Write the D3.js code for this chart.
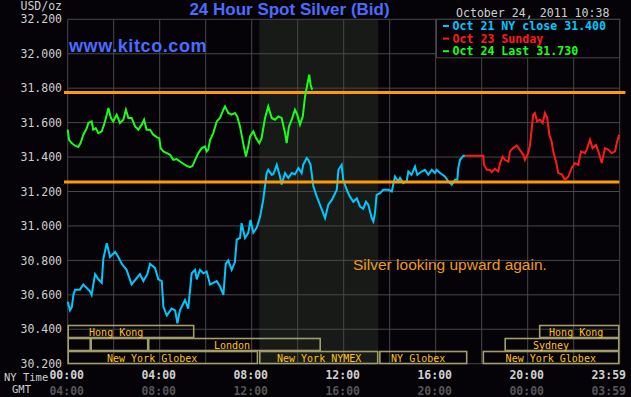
<!DOCTYPE html>
<html>
<head>
<meta charset="utf-8">
<script src="https://cdn.jsdelivr.net/npm/d3@7"></script>
<style>
  html, body { margin: 0; padding: 0; background: #050307; }
  svg { display: block; }
</style>
</head>
<body>
<svg id="chart" width="631" height="397"></svg>
<script>
// ---------- DATA ----------
const yTicks = [30.2, 30.4, 30.6, 30.8, 31.0, 31.2, 31.4, 31.6, 31.8, 32.0, 32.2];
const xTickHours = [0, 4, 8, 12, 16, 20, 23.983];
const nyTimeLabels = ["00:00", "04:00", "08:00", "12:00", "16:00", "20:00", "23:59"];
const gmtLabels = ["04:00", "08:00", "12:00", "16:00", "20:00", "00:00", "03:59"];

// Oct 21 NY close (cyan): [hour, price]
const oct21Hours = [0.00,0.10,0.18,0.25,0.32,0.53,0.68,0.97,1.04,1.19,1.33,1.48,1.55,1.70,1.84,2.06,2.20,2.35,2.56,2.78,3.14,3.29,3.46,3.58,3.80,3.94,4.09,4.16,4.31,4.52,4.67,4.77,4.88,5.10,5.24,5.39,5.54,5.61,5.75,5.90,6.04,6.19,6.33,6.48,6.62,6.77,6.87,6.98,7.13,7.27,7.35,7.49,7.56,7.71,7.85,7.95,8.07,8.22,8.36,8.50,8.65,8.72,8.87,8.94,9.09,9.23,9.30,9.45,9.59,9.74,9.88,10.03,10.17,10.24,10.39,10.46,10.56,10.68,10.83,10.97,11.19,11.33,11.48,11.70,11.77,11.91,11.98,12.13,12.27,12.42,12.57,12.71,12.85,12.97,13.07,13.22,13.29,13.36,13.43,13.58,13.72,13.94,14.09,14.23,14.37,14.45,14.59,14.74,14.81,14.95,15.10,15.20,15.39,15.53,15.68,15.83,15.97,16.04,16.19,16.40,16.55,16.70,16.84,16.94,16.98,17.06,17.20,17.28];
const oct21Prices = [30.56,30.51,30.53,30.60,30.63,30.63,30.66,30.62,30.60,30.72,30.69,30.67,30.81,30.90,30.82,30.85,30.82,30.78,30.745,30.66,30.72,30.68,30.72,30.78,30.755,30.69,30.68,30.53,30.48,30.52,30.51,30.435,30.51,30.57,30.52,30.725,30.745,30.69,30.745,30.725,30.735,30.66,30.67,30.68,30.65,30.60,30.78,30.80,30.745,30.79,30.92,30.93,31.016,30.93,30.96,31.035,30.96,30.99,31.05,31.15,31.307,31.326,31.297,31.30,31.355,31.287,31.24,31.307,31.278,31.307,31.30,31.336,31.307,31.355,31.394,31.384,31.355,31.23,31.17,31.123,31.045,31.123,31.15,31.21,31.326,31.355,31.268,31.21,31.17,31.14,31.16,31.113,31.10,31.14,31.123,31.045,31.026,31.074,31.18,31.19,31.21,31.21,31.20,31.287,31.258,31.278,31.249,31.26,31.316,31.297,31.345,31.297,31.316,31.326,31.297,31.326,31.307,31.326,31.307,31.287,31.258,31.24,31.268,31.268,31.336,31.384,31.407,31.407];

// Oct 23 Sunday (red)
const oct23Hours = [17.28,18.07,18.10,18.22,18.36,18.43,18.58,18.72,18.80,18.91,19.01,19.16,19.23,19.37,19.52,19.66,19.81,19.88,20.02,20.10,20.17,20.24,20.31,20.41,20.53,20.65,20.75,20.85,20.94,21.04,21.11,21.23,21.33,21.48,21.62,21.77,21.91,22.05,22.20,22.32,22.49,22.56,22.71,22.82,22.97,23.07,23.22,23.36,23.51,23.65,23.80,23.87,23.98];
const oct23Prices = [31.407,31.407,31.355,31.326,31.326,31.313,31.332,31.316,31.365,31.403,31.384,31.374,31.433,31.452,31.467,31.442,31.413,31.384,31.423,31.47,31.559,31.646,31.656,31.607,31.617,31.598,31.656,31.627,31.53,31.49,31.433,31.374,31.307,31.30,31.268,31.287,31.336,31.365,31.355,31.433,31.423,31.442,31.50,31.452,31.47,31.433,31.365,31.452,31.442,31.423,31.433,31.481,31.53];

// Oct 24 Last (green)
const oct24Hours = [0.00,0.06,0.17,0.32,0.46,0.56,0.68,0.83,0.90,1.04,1.11,1.22,1.33,1.48,1.58,1.70,1.77,1.88,1.98,2.13,2.27,2.42,2.53,2.64,2.78,2.93,3.07,3.22,3.32,3.43,3.58,3.72,3.87,3.98,4.04,4.16,4.31,4.45,4.59,4.74,4.88,5.03,5.17,5.32,5.43,5.54,5.68,5.83,5.97,6.04,6.11,6.19,6.33,6.48,6.62,6.77,6.84,6.98,7.13,7.27,7.37,7.49,7.63,7.75,7.85,7.93,8.07,8.19,8.33,8.43,8.58,8.72,8.87,9.01,9.16,9.30,9.45,9.52,9.62,9.74,9.88,9.98,10.10,10.22,10.32,10.39,10.50,10.56,10.63];
const oct24Prices = [31.559,31.50,31.481,31.466,31.458,31.481,31.53,31.568,31.598,31.607,31.559,31.568,31.539,31.549,31.588,31.646,31.685,31.627,31.607,31.646,31.598,31.617,31.675,31.627,31.627,31.578,31.559,31.588,31.617,31.559,31.559,31.53,31.516,31.51,31.452,31.433,31.423,31.413,31.384,31.388,31.374,31.361,31.349,31.342,31.349,31.384,31.423,31.452,31.462,31.433,31.442,31.50,31.539,31.607,31.627,31.675,31.694,31.656,31.646,31.656,31.636,31.578,31.481,31.403,31.462,31.52,31.549,31.51,31.481,31.51,31.627,31.694,31.627,31.617,31.636,31.627,31.539,31.481,31.578,31.617,31.675,31.646,31.588,31.636,31.752,31.801,31.878,31.82,31.791];

// reference levels (orange lines)
const levelPrices = [31.775, 31.255];
const levelEndHours = [24.25, 23.98];

// NYMEX pit session (shaded)
const pitSession = [8.33, 13.5];

// market sessions: row, start hour, end hour, label, label start hour
const marketNames = ["Hong Kong", "Hong Kong", "", "", "London", "Sydney", "New York Globex", "New York NYMEX", "NY Globex", "New York Globex"];
const marketRows  = [0, 0, 1, 1, 1, 1, 2, 2, 2, 2];
const marketStart = [0, 20.5, 0, 1, 3.5, 19, 0, 8.33, 13.55, 18.05];
const marketEnd   = [5.5, 23.98, 1, 3.5, 11, 23.98, 8.27, 13.5, 17.37, 23.98];
const marketLabelAt = [0.93, 20.93, 0, 0, 6.36, 20.23, 1.71, 9.1, 14.06, 19.04];

const legendLabels = ["Oct 21 NY close 31.400", "Oct 23 Sunday", "Oct 24 Last 31.730"];
const legendColors = ["#00c8ff", "#ff1a1a", "#19ff19"];

// ---------- CHART ----------
const svg = d3.select("#chart");
const W = 631, H = 397;
const pLeft = 67.7, pRight = 619.7, pTop = 19.3, pBottom = 363.7;
const mono = "'DejaVu Sans Mono', 'Liberation Mono', monospace";
const gridColor = "#484848";

const x = d3.scaleLinear().domain([0, 24]).range([pLeft, pRight]);
const y = d3.scaleLinear().domain([30.2, 32.2]).range([pBottom, pTop]);

svg.append("rect").attr("width", W).attr("height", H).attr("fill", "#050307");

// shaded pit session
svg.append("rect")
  .attr("x", x(pitSession[0])).attr("y", pTop)
  .attr("width", x(pitSession[1]) - x(pitSession[0]))
  .attr("height", pBottom - pTop)
  .attr("fill", "#181a18");

// grid
svg.append("g").selectAll("line").data(yTicks).join("line")
  .attr("x1", pLeft).attr("x2", pRight)
  .attr("y1", d => y(d)).attr("y2", d => y(d))
  .attr("stroke", gridColor).attr("stroke-width", 1);
const gridHours = d3.range(0, 25, 2);
svg.append("g").selectAll("line").data(gridHours).join("line")
  .attr("x1", d => x(d)).attr("x2", d => x(d))
  .attr("y1", pTop).attr("y2", pBottom)
  .attr("stroke", gridColor).attr("stroke-width", 1);

// y labels
svg.append("g").selectAll("text").data(yTicks).join("text")
  .attr("x", 62).attr("y", d => y(d)).attr("dy", "0.36em")
  .attr("text-anchor", "end")
  .attr("font-family", mono).attr("font-size", 11.5)
  .attr("fill", "#cfcfcf")
  .text(d => d3.format(".3f")(d));

svg.append("text").attr("x", 62).attr("y", 10).attr("text-anchor", "end")
  .attr("font-family", mono).attr("font-size", 11.5).attr("fill", "#cfcfcf").text("USD/oz");

// x labels
const lastI = xTickHours.length - 1;
const xl = svg.append("g");
xl.selectAll("text.ny").data(xTickHours).join("text").attr("class", "ny")
  .attr("x", (d, i) => i === lastI ? 626 : x(d) - 1)
  .attr("y", 379)
  .attr("text-anchor", (d, i) => i === lastI ? "end" : "middle")
  .attr("font-family", mono).attr("font-size", 11.5).attr("font-weight", "bold")
  .attr("fill", "#d0d0d0")
  .text((d, i) => nyTimeLabels[i]);
xl.selectAll("text.gmt").data(xTickHours).join("text").attr("class", "gmt")
  .attr("x", (d, i) => i === lastI ? 626 : x(d) - 1)
  .attr("y", 395)
  .attr("text-anchor", (d, i) => i === lastI ? "end" : "middle")
  .attr("font-family", mono).attr("font-size", 11.5).attr("font-weight", "bold")
  .attr("fill", "#555555")
  .text((d, i) => gmtLabels[i]);
svg.append("text").attr("x", 4).attr("y", 381).attr("font-family", mono)
  .attr("font-size", 10.5).attr("fill", "#cfcfcf").text("NY Time");
svg.append("text").attr("x", 12).attr("y", 393).attr("font-family", mono)
  .attr("font-size", 10.5).attr("fill", "#cfcfcf").text("GMT");

// market session boxes
const rowTop = [325, 338, 351];
const rowH = 13;
const markets = marketNames.map((n, i) => ({
  name: n, row: marketRows[i], s: marketStart[i], e: marketEnd[i], at: marketLabelAt[i]
}));
const mg = svg.append("g");
mg.selectAll("rect").data(markets).join("rect")
  .attr("x", d => x(d.s) + 0.5).attr("y", d => rowTop[d.row] + 0.5)
  .attr("width", d => x(d.e) - x(d.s) - 1).attr("height", rowH - 1)
  .attr("fill", "none").attr("stroke", "#a29d6c").attr("stroke-width", 1.6);
mg.selectAll("text").data(markets.filter(d => d.name)).join("text")
  .attr("x", d => x(d.at)).attr("y", d => rowTop[d.row] + 10.5)
  .attr("font-family", mono).attr("font-size", 10)
  .attr("fill", "#ffc21a")
  .text(d => d.name);

// series
const line = d3.line().x(d => x(d[0])).y(d => y(d[1]));
function drawSeries(hours, prices, color) {
  svg.append("path")
    .datum(hours.map((h, i) => [h, prices[i]]))
    .attr("d", line)
    .attr("fill", "none").attr("stroke", color)
    .attr("stroke-width", 2).attr("stroke-linejoin", "miter");
}
drawSeries(oct21Hours, oct21Prices, legendColors[0]);

// orange reference levels
svg.append("g").selectAll("line").data(levelPrices).join("line")
  .attr("x1", 64).attr("x2", (d, i) => x(levelEndHours[i]))
  .attr("y1", d => y(d)).attr("y2", d => y(d))
  .attr("stroke", "#ff9a00").attr("stroke-width", 3);

drawSeries(oct23Hours, oct23Prices, legendColors[1]);
drawSeries(oct24Hours, oct24Prices, legendColors[2]);

// legend
const lg = svg.append("g");
lg.append("rect").attr("x", 436.5).attr("y", pTop).attr("width", pRight - 436.5).attr("height", 38.5)
  .attr("fill", "#050307").attr("stroke", gridColor).attr("stroke-width", 1);
legendLabels.forEach((t, i) => {
  lg.append("rect").attr("x", 443).attr("y", 25 + i * 12.6).attr("width", 6).attr("height", 2)
    .attr("fill", legendColors[i]);
  lg.append("text").attr("x", 452.5).attr("y", 30 + i * 12.6)
    .attr("font-family", mono).attr("font-size", 11.6).attr("font-weight", "bold")
    .attr("fill", legendColors[i]).text(t);
});

// date
svg.append("text").attr("x", 609.5).attr("y", 16.5).attr("text-anchor", "end")
  .attr("font-family", mono).attr("font-size", 11.6).attr("fill", "#cfcfcf")
  .text("October 24, 2011 10:38");

// title
svg.append("text").attr("x", 289.5).attr("y", 15).attr("text-anchor", "middle")
  .attr("font-family", "'Liberation Sans', Arial, sans-serif").attr("font-size", 17)
  .attr("font-weight", "bold").attr("fill", "#4a6cff")
  .text("24 Hour Spot Silver (Bid)");
svg.append("text").attr("x", 69).attr("y", 52)
  .attr("font-family", "'Liberation Sans', Arial, sans-serif").attr("font-size", 18)
  .attr("font-weight", "bold").attr("letter-spacing", 0.6).attr("fill", "#4a6cff")
  .text("www.kitco.com");

// annotation
svg.append("text").attr("x", 353).attr("y", 269.5)
  .attr("font-family", "'Liberation Sans', Arial, sans-serif").attr("font-size", 15.5)
  .attr("fill", "#eb9a24")
  .text("Silver looking upward again.");
</script>
</body>
</html>
